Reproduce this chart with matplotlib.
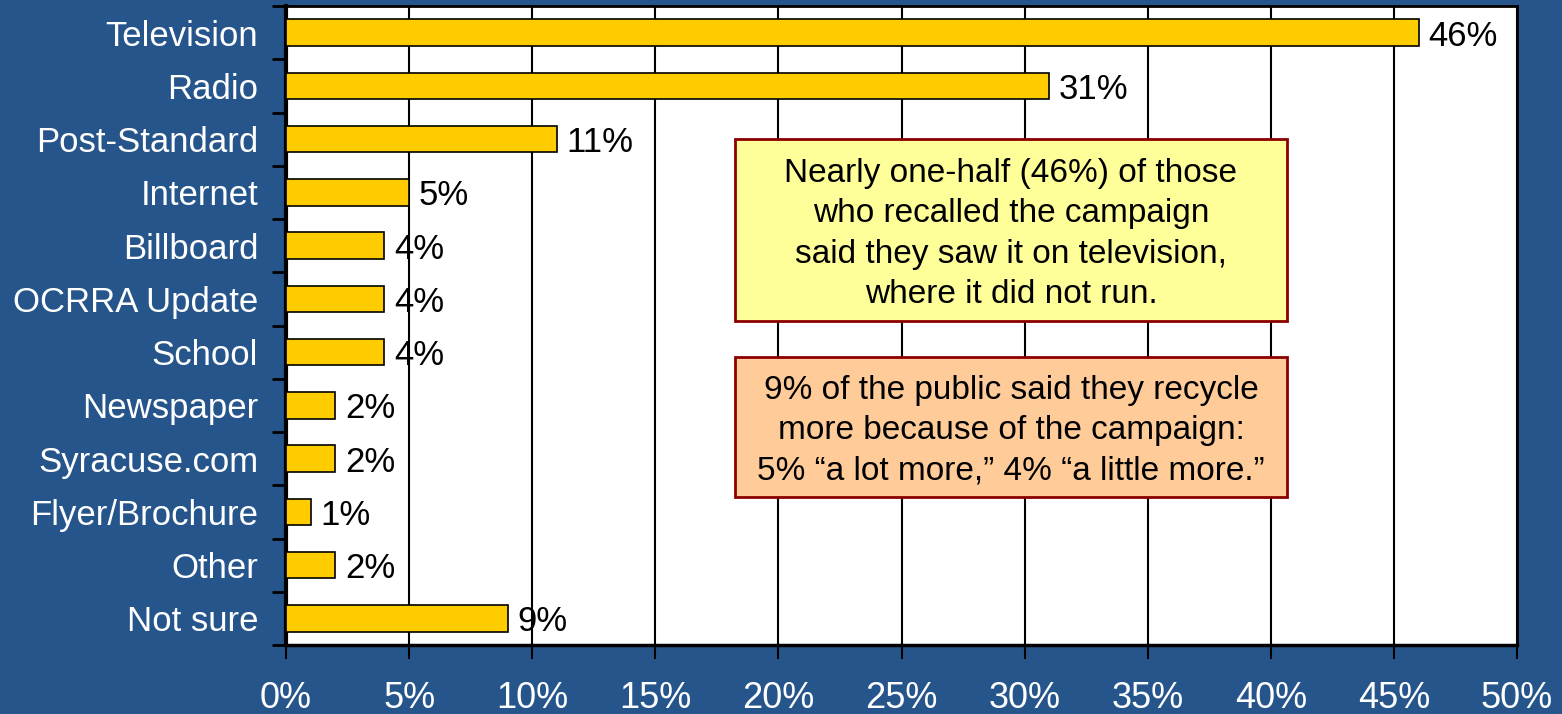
import numpy as np
import matplotlib.pyplot as plt
from matplotlib.patches import Rectangle

# survey: where people saw/heard the campaign
sources = ["Television", "Radio", "Post-Standard", "Internet", "Billboard",
           "OCRRA Update", "School", "Newspaper", "Syracuse.com",
           "Flyer/Brochure", "Other", "Not sure"]
pct = [46, 31, 11, 5, 4, 4, 4, 2, 2, 1, 2, 9]
xticks = [0, 5, 10, 15, 20, 25, 30, 35, 40, 45, 50]

note_tv = ("Nearly one-half (46%) of those\nwho recalled the campaign\n"
           "said they saw it on television,\nwhere it did not run.")
note_recycle = ("9% of the public said they recycle\nmore because of the campaign:\n"
                "5% \u201ca lot more,\u201d 4% \u201ca little more.\u201d")

plt.rcParams['font.family'] = ['Liberation Sans', 'DejaVu Sans']

bg = '#26558B'
W, H = 1562, 714
fig = plt.figure(figsize=(W / 100, H / 100), dpi=100, facecolor=bg)
ax = fig.add_axes([286 / W, 1 - 645 / H, (1517 - 286) / W, (645 - 6) / H])
ax.set_facecolor('white')

y = np.arange(len(sources))
ax.barh(y, pct, height=0.5, color='#FFCC00', edgecolor='black', linewidth=1.2, zorder=3)
for yi, v in zip(y, pct):
    ax.text(v + 0.4, yi, f"{v}%", va='center_baseline', ha='left', fontsize=25,
            color='black', zorder=4)

ax.set_ylim(len(sources) - 0.5, -0.5)
ax.set_xlim(0, 50)

ax.set_yticks(y)
ax.set_yticklabels(sources, fontsize=25, color='white')
ax.tick_params(axis='y', which='major', length=0, pad=20)
ax.set_yticks(np.arange(len(sources) + 1) - 0.5, minor=True)
ax.tick_params(axis='y', which='minor', length=10, width=2, color='black', direction='out')

ax.set_xticks(xticks)
ax.set_xticklabels([f"{t}%" for t in xticks], fontsize=26, color='white')
ax.tick_params(axis='x', length=10, width=1.5, color='black', pad=16)

ax.grid(axis='x', color='black', linewidth=1.5, zorder=1)
for s in ax.spines.values():
    s.set_color('black')
    s.set_linewidth(2)
ax.spines['left'].set_linewidth(3)
ax.spines['bottom'].set_linewidth(2.5)


def note_box(x0, y0, x1, y1, fill, text):
    # box drawn in figure pixel coordinates
    fig.patches.append(Rectangle((x0 / W, 1 - y1 / H), (x1 - x0) / W, (y1 - y0) / H,
                                 transform=fig.transFigure, facecolor=fill,
                                 edgecolor='#8B0000', linewidth=2, zorder=5))
    fig.text((x0 + x1) / 2 / W, 1 - ((y0 + y1) / 2 + 4) / H, text, ha='center',
             va='center', fontsize=24, color='black', linespacing=1.38, zorder=6)


note_box(735, 139, 1287, 321, '#FFFF99', note_tv)
note_box(735, 357, 1287, 497, '#FFCC99', note_recycle)

fig.savefig('out.png', dpi=100, facecolor=bg)
